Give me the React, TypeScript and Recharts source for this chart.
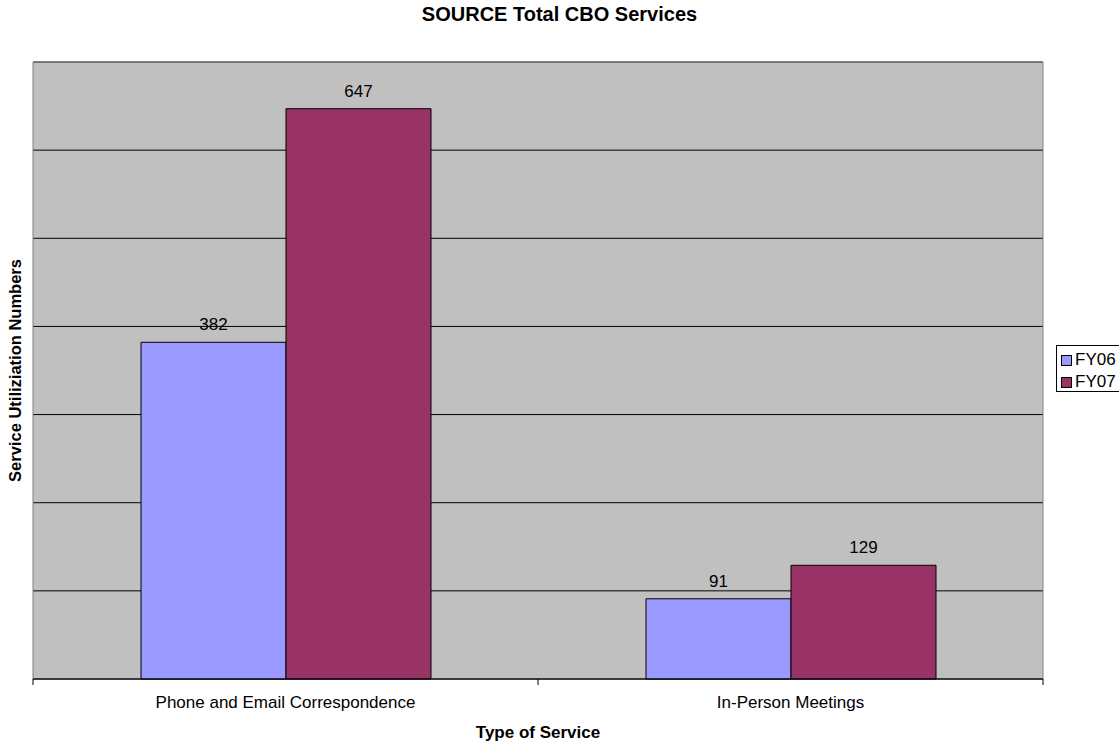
import {
  Bar,
  BarChart,
  CartesianGrid,
  LabelList,
  ReferenceArea,
  XAxis,
  YAxis,
} from 'recharts'

const categories = ['Phone and Email Correspondence', 'In-Person Meetings']
const fy06 = [382, 91]
const fy07 = [647, 129]
const gridTicks = [0, 100, 200, 300, 400, 500, 600]
const seriesNames = ['FY06', 'FY07']
const seriesColors = ['#9999FF', '#993366']

const data = categories.map((name, i) => ({
  name,
  FY06: fy06[i],
  FY07: fy07[i],
}))

const FONT = 'Arial, "Liberation Sans", sans-serif'

function LegendBox() {
  return (
    <div
      style={{
        position: 'absolute',
        left: 1056,
        top: 345,
        width: 70,
        height: 47,
        border: '1px solid #000',
        background: '#fff',
        fontFamily: FONT,
        fontSize: 17,
        paddingTop: 3,
        paddingLeft: 4,
        boxSizing: 'border-box',
      }}
    >
      {seriesNames.map((label, i) => (
        <div key={label} style={{ display: 'flex', alignItems: 'center', height: 22 }}>
          <span
            style={{
              display: 'inline-block',
              width: 9,
              height: 9,
              background: seriesColors[i],
              border: '1px solid #000',
              marginRight: 3,
            }}
          />
          {label}
        </div>
      ))}
    </div>
  )
}

const yTitle = (props: any) => {
  const vb = props.viewBox || {}
  const cy = (vb.y || 0) + (vb.height || 0) / 2
  const cx = 15
  return (
    <text
      x={cx}
      y={cy}
      transform={`rotate(-90, ${cx}, ${cy})`}
      textAnchor="middle"
      dominantBaseline="central"
      fontFamily={FONT}
      fontSize={16.5}
      fontWeight="bold"
      fill="#000"
    >
      Service Utiliziation Numbers
    </text>
  )
}

// category label plus the tick marks at the band edges (Excel style)
const catTick = (props: any) => {
  const { x, y, payload, index, visibleTicksCount } = props
  const half = payload && payload.offset ? payload.offset : 0
  const top = y - 17
  const isLast = index === visibleTicksCount - 1
  return (
    <g>
      <line x1={x - half} x2={x - half} y1={top} y2={top + 6} stroke="#000" />
      {isLast && <line x1={x + half} x2={x + half} y1={top} y2={top + 6} stroke="#000" />}
      <text x={x} y={y} dy="0.71em" textAnchor="middle" fontFamily={FONT} fontSize={17} fill="#000">
        {payload.value}
      </text>
    </g>
  )
}

export default function App() {
  return (
    <div style={{ position: 'absolute', left: 0, top: 0, width: 1119, height: 743, background: '#fff' }}>
      <div
        style={{
          position: 'absolute',
          left: 0,
          width: 1119,
          top: 3,
          textAlign: 'center',
          fontFamily: FONT,
          fontWeight: 'bold',
          fontSize: 20,
        }}
      >
        SOURCE Total CBO Services
      </div>
      <BarChart
        width={1119}
        height={743}
        data={data}
        margin={{ top: 62, right: 76, left: 0, bottom: 0 }}
        barGap={0}
        barSize={145}
      >
        <CartesianGrid vertical={false} stroke="#000" fill="#C0C0C0" fillOpacity={1} />
        <ReferenceArea
          y1={0}
          y2={700}
          stroke="#808080"
          fill="#C0C0C0"
          fillOpacity={0}
          ifOverflow="visible"
        />
        <XAxis
          dataKey="name"
          height={64}
          tickLine={false}
          axisLine={{ stroke: '#000' }}
          tick={catTick}
          tickMargin={11}
          label={{
            value: 'Type of Service',
            position: 'insideBottom',
            offset: 5,
            fill: '#000',
            fontSize: 17,
            fontWeight: 'bold',
            fontFamily: FONT,
          }}
        />
        <YAxis
          width={33}
          domain={[0, 700]}
          ticks={gridTicks}
          tickFormatter={() => ''}
          tickLine={false}
          axisLine={false}
          label={{ content: yTitle }}
        />
        <Bar dataKey="FY06" fill={seriesColors[0]} stroke="#000" strokeWidth={1} isAnimationActive={false}>
          <LabelList dataKey="FY06" position="top" offset={12} fill="#000" fontSize={17} fontFamily={FONT} />
        </Bar>
        <Bar dataKey="FY07" fill={seriesColors[1]} stroke="#000" strokeWidth={1} isAnimationActive={false}>
          <LabelList dataKey="FY07" position="top" offset={12} fill="#000" fontSize={17} fontFamily={FONT} />
        </Bar>
      </BarChart>
      <LegendBox />
    </div>
  )
}
